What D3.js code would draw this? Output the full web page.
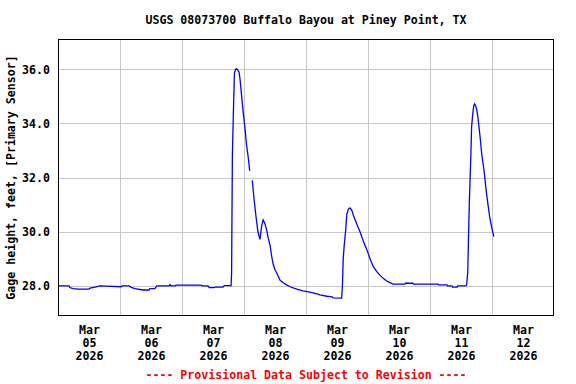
<!DOCTYPE html>
<html><head><meta charset="utf-8">
<script src="https://cdn.jsdelivr.net/npm/d3@7/dist/d3.min.js"></script>
<style>
html,body{margin:0;padding:0;background:#fff;}
text{font-family:"DejaVu Sans Mono",monospace;font-weight:bold;font-size:11.6px;}
</style></head><body>
<svg id="c" width="576" height="384"></svg>
<script>
const title = "USGS 08073700 Buffalo Bayou at Piney Point, TX";
const yLabel = "Gage height, feet, [Primary Sensor]";
const footer = "---- Provisional Data Subject to Revision ----";
const startDate = Date.UTC(2026, 2, 5, 0, 0);
const endDate = Date.UTC(2026, 2, 13, 0, 0);
const dayLabels = ["05","06","07","08","09","10","11","12"];
const yTicks = [28, 30, 32, 34, 36];
// hours since Mar 05 00:00
const hours = [0.3,4.3,4.6,5.8,8.1,12.0,12.4,14.3,16.3,18.6,24.4,24.8,27.5,28.3,29.8,32.9,35.2,35.6,37.5,38.3,43.0,43.4,43.7,45.3,45.7,55.4,55.7,58.1,58.5,60.4,60.8,63.9,64.3,67.0,
67.2,67.5,67.9,68.3,68.7,69.2,69.7,70.1,70.5,71.1,71.7,72.4,73.0,73.7,74.2,74.7,
75.2,75.9,76.6,77.4,78.2,78.8,79.4,80.1,80.8,81.3,82.1,82.7,83.3,84.0,84.7,85.3,85.9,87.2,88.5,89.8,92.4,94.8,97.5,100.6,101.4,104.1,106.1,106.5,109.8,
110.1,110.4,110.8,111.4,111.8,112.4,113.0,113.7,114.3,115.6,116.9,118.2,119.5,120.8,122.0,123.4,124.6,125.9,127.2,128.5,129.7,134.3,134.5,137.4,137.6,147.1,147.3,150.6,150.8,152.5,152.7,154.5,154.7,157.9,
158.2,158.6,158.8,159.2,159.8,160.1,160.5,160.9,161.3,161.7,162.1,162.6,163.1,163.5,164.0,164.5,165.0,165.6,166.1,166.6,167.1,167.6,168.1,168.7];
const gageHeight = [28.00,28.00,27.94,27.90,27.88,27.88,27.92,27.96,28.00,27.99,27.97,28.00,28.00,27.95,27.90,27.85,27.85,27.90,27.90,28.00,28.00,28.05,28.00,28.00,28.03,28.03,28.00,28.00,27.94,27.94,27.96,27.96,28.01,28.01,
28.48,32.77,34.43,35.86,36.00,36.02,35.95,35.90,35.60,35.00,34.40,33.80,33.20,32.70,32.25,null,
31.90,31.20,30.60,30.00,29.72,30.20,30.44,30.30,30.05,29.80,29.50,29.10,28.80,28.60,28.47,28.35,28.22,28.12,28.04,27.97,27.88,27.82,27.77,27.70,27.67,27.62,27.60,27.56,27.55,
28.00,29.00,29.50,30.10,30.65,30.84,30.88,30.80,30.62,30.30,30.00,29.65,29.35,29.00,28.72,28.53,28.40,28.28,28.18,28.12,28.07,28.07,28.10,28.10,28.07,28.07,28.04,28.04,28.00,28.00,27.96,27.96,28.00,28.00,
28.06,28.48,29.33,31.00,32.76,33.87,34.30,34.64,34.72,34.65,34.50,34.20,33.75,33.40,32.90,32.55,32.20,31.65,31.25,30.90,30.55,30.30,30.07,29.82];

const svg = d3.select("#c");
const L = 58, R = 554, T = 39, B = 316;
const x = d3.scaleUtc().domain([new Date(startDate), new Date(endDate)]).range([L, R]);
const y = d3.scaleLinear().domain([26.89, 37.12]).range([B, T]);
const data = hours.map((h, i) => ({t: new Date(startDate + h * 3600e3), v: gageHeight[i]}));

// grid
const dayTicks = d3.range(1, 8).map(d => new Date(startDate + d * 86400e3));
svg.append("g").selectAll("line").data(dayTicks).join("line")
  .attr("x1", d => Math.round(x(d)) + 0.5).attr("x2", d => Math.round(x(d)) + 0.5)
  .attr("y1", T).attr("y2", B).attr("stroke", "#c8c8c8").attr("stroke-width", 1);
svg.append("g").selectAll("line").data(yTicks).join("line")
  .attr("y1", d => Math.round(y(d)) + 0.5).attr("y2", d => Math.round(y(d)) + 0.5)
  .attr("x1", L).attr("x2", R).attr("stroke", "#c8c8c8").attr("stroke-width", 1);

// line
svg.append("path").datum(data)
  .attr("fill", "none").attr("stroke", "#0000ff").attr("stroke-width", 1.3)
  .attr("d", d3.line().defined(d => d.v !== null).x(d => x(d.t)).y(d => y(d.v)));

// frame
svg.append("rect").attr("x", L + 0.5).attr("y", T + 0.5).attr("width", R - L - 1).attr("height", B - T - 1)
  .attr("fill", "none").attr("stroke", "#000").attr("stroke-width", 1);

// y axis
const ya = svg.append("g").attr("transform", `translate(${L},0)`)
  .call(d3.axisLeft(y).tickValues(yTicks).tickFormat(d3.format(".1f")).tickSize(0).tickPadding(8));
ya.select(".domain").remove();
ya.selectAll("text").attr("fill", "#000").style("font-family", "'DejaVu Sans Mono',monospace").style("font-size", "11.6px").style("font-weight", "bold");

// x axis labels (noon of each day)
const noonTicks = dayLabels.map((d, i) => new Date(startDate + (i + 0.5) * 86400e3));
const xa = svg.append("g").attr("transform", `translate(0,${B})`)
  .call(d3.axisBottom(x).tickValues(noonTicks).tickSize(0).tickFormat(() => ""));
xa.select(".domain").remove();
xa.selectAll(".tick text").each(function(d, i) {
  const t = d3.select(this).attr("y", 0).attr("dy", null).attr("fill", "#000")
    .style("font-family", "'DejaVu Sans Mono',monospace").style("font-size", "11.6px").style("font-weight", "bold");
  t.append("tspan").attr("x", 0).attr("y", 18).text("Mar");
  t.append("tspan").attr("x", 0).attr("y", 31).text(dayLabels[i]);
  t.append("tspan").attr("x", 0).attr("y", 44).text("2026");
});

// title
svg.append("text").attr("x", (L + R) / 2).attr("y", 24).attr("text-anchor", "middle").attr("fill", "#000").text(title);
// y label
svg.append("text").attr("transform", `translate(15,${(T + B) / 2}) rotate(-90)`).attr("text-anchor", "middle").attr("fill", "#000").text(yLabel);
// footer
svg.append("text").attr("x", (L + R) / 2).attr("y", 379).attr("text-anchor", "middle").attr("fill", "#ff0000").text(footer);
</script>
</body></html>
